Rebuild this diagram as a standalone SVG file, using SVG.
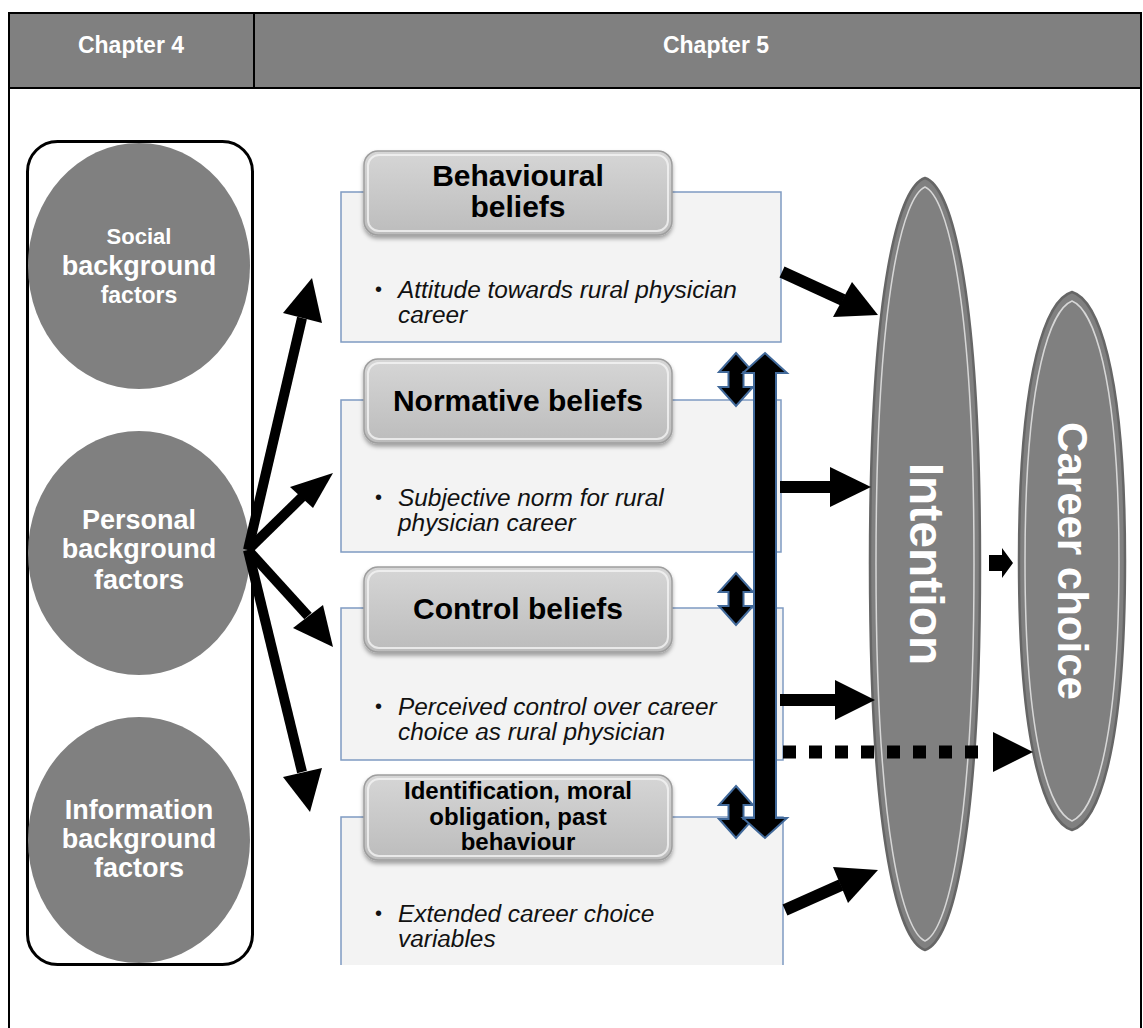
<svg xmlns="http://www.w3.org/2000/svg" width="1143" height="1028" viewBox="0 0 1143 1028">
  <style>
    .hdr { font-family: "Liberation Sans", Arial, sans-serif; font-weight: bold; font-size: 23px; fill: #ffffff; text-anchor: middle; }
    .circ { fill: #808080; }
    .ctext { font-family: "Liberation Sans", Arial, sans-serif; font-weight: bold; fill: #ffffff; text-anchor: middle; }
    .panel { fill: #f3f3f3; stroke: #7f9bc2; stroke-width: 1.5; }
    .tab { fill: url(#tabGrad); stroke: #9e9e9e; stroke-width: 1.5; filter: url(#shadow); }
    .tabHi { fill: none; stroke: #f4f4f4; stroke-width: 2; opacity: 0.8; }
    .ttext { font-family: "Liberation Sans", Arial, sans-serif; font-weight: bold; font-size: 30px; fill: #000000; text-anchor: middle; }
    .ttext2 { font-family: "Liberation Sans", Arial, sans-serif; font-weight: bold; font-size: 24px; fill: #000000; text-anchor: middle; }
    .btext { font-family: "Liberation Sans", Arial, sans-serif; font-style: italic; font-size: 24.4px; fill: #111111; }
    .bullet { font-family: "Liberation Sans", Arial, sans-serif; font-size: 20px; fill: #111111; }
    .lens { fill: #808080; stroke: #666666; stroke-width: 2.5; }
    .lensHi { fill: none; stroke: #e6e6e6; stroke-width: 1.5; opacity: 0.85; }
    .ltext { font-family: "Liberation Sans", Arial, sans-serif; font-weight: bold; fill: #ffffff; text-anchor: middle; }
    .shaft { stroke: #000000; fill: none; }
    .head { fill: #000000; }
    .dbl { fill: #000000; stroke: #41699a; stroke-width: 2; stroke-linejoin: miter; }
  </style>
  <defs>
    <linearGradient id="tabGrad" x1="0" y1="0" x2="0" y2="1">
      <stop offset="0" stop-color="#d6d6d6"/>
      <stop offset="1" stop-color="#bcbcbc"/>
    </linearGradient>
    <filter id="shadow" x="-10%" y="-10%" width="120%" height="130%">
      <feDropShadow dx="0" dy="3" stdDeviation="2" flood-color="#000000" flood-opacity="0.35"/>
    </filter>
  </defs>

  <rect width="1143" height="1028" fill="#ffffff"/>

  <!-- table frame and header row -->
  <g id="table">
    <rect x="9" y="13" width="1132" height="75" fill="#808080"/>
    <path d="M9 12 V1028 M1141 12 V1028 M8 13 H1142 M8 88 H1142 M254 12 V88" stroke="#000000" stroke-width="2" fill="none"/>
    <text class="hdr" x="131" y="53">Chapter 4</text>
    <text class="hdr" x="716" y="53">Chapter 5</text>
  </g>

  <!-- background factors column -->
  <g id="background-frame">
    <rect x="27.5" y="141.5" width="225" height="823" rx="30" fill="none" stroke="#000000" stroke-width="3"/>
  </g>
  <g id="social">
    <ellipse class="circ" cx="139" cy="266" rx="111" ry="123"/>
    <text class="ctext" x="139" y="244" font-size="22">Social</text>
    <text class="ctext" x="139" y="275" font-size="27">background</text>
    <text class="ctext" x="139" y="303" font-size="23">factors</text>
  </g>
  <g id="personal">
    <ellipse class="circ" cx="139" cy="553" rx="111" ry="122"/>
    <text class="ctext" x="139" y="529" font-size="27">Personal</text>
    <text class="ctext" x="139" y="558" font-size="27">background</text>
    <text class="ctext" x="139" y="589" font-size="27">factors</text>
  </g>
  <g id="information">
    <ellipse class="circ" cx="139" cy="840" rx="111" ry="123"/>
    <text class="ctext" x="139" y="819" font-size="27">Information</text>
    <text class="ctext" x="139" y="848" font-size="27">background</text>
    <text class="ctext" x="139" y="877" font-size="27">factors</text>
  </g>

  <!-- belief panels -->
  <g id="behavioural">
    <rect class="panel" x="341" y="192" width="440" height="150"/>
    <rect class="tab" x="364" y="151" width="308" height="84" rx="14"/>
    <rect class="tabHi" x="368" y="155" width="300" height="76" rx="11"/>
    <text class="ttext" x="518" y="186">Behavioural</text>
    <text class="ttext" x="518" y="217">beliefs</text>
    <text class="bullet" x="375" y="296">•</text>
    <text class="btext" x="398" y="298">Attitude towards rural physician</text>
    <text class="btext" x="398" y="323">career</text>
  </g>
  <g id="normative">
    <rect class="panel" x="341" y="400" width="440" height="152"/>
    <rect class="tab" x="364" y="359" width="308" height="84" rx="14"/>
    <rect class="tabHi" x="368" y="363" width="300" height="76" rx="11"/>
    <text class="ttext" x="518" y="411">Normative beliefs</text>
    <text class="bullet" x="375" y="504">•</text>
    <text class="btext" x="398" y="506">Subjective norm for rural</text>
    <text class="btext" x="398" y="531">physician career</text>
  </g>
  <g id="control">
    <rect class="panel" x="341" y="608" width="442" height="152"/>
    <rect class="tab" x="364" y="567" width="308" height="85" rx="14"/>
    <rect class="tabHi" x="368" y="571" width="300" height="77" rx="11"/>
    <text class="ttext" x="518" y="619">Control beliefs</text>
    <text class="bullet" x="375" y="713">•</text>
    <text class="btext" x="398" y="715">Perceived control over career</text>
    <text class="btext" x="398" y="740">choice as rural physician</text>
  </g>
  <g id="extended">
    <rect x="341" y="817" width="442" height="148" fill="#f3f3f3"/>
    <path d="M341 965 V817 H783 V965" fill="none" stroke="#7f9bc2" stroke-width="1.5"/>
    <rect class="tab" x="364" y="775" width="308" height="85" rx="14"/>
    <rect class="tabHi" x="368" y="779" width="300" height="77" rx="11"/>
    <text class="ttext2" x="518" y="799">Identification, moral</text>
    <text class="ttext2" x="518" y="825">obligation, past</text>
    <text class="ttext2" x="518" y="850">behaviour</text>
    <text class="bullet" x="375" y="920">•</text>
    <text class="btext" x="398" y="922">Extended career choice</text>
    <text class="btext" x="398" y="947">variables</text>
  </g>

  <!-- outcome lenses (tall pointed ovals) -->
  <g id="intention">
    <path class="lens" d="M925 178 C950 186 980 280 980 564 C980 848 950 942 925 950 C900 942 870 848 870 564 C870 280 900 186 925 178 Z"/>
    <path class="lensHi" d="M925 187 C946 196 974 290 974 564 C974 838 946 932 925 941 C904 932 876 838 876 564 C876 290 904 196 925 187 Z"/>
    <text class="ltext" font-size="48" transform="translate(910,564) rotate(90)">Intention</text>
  </g>
  <g id="career-choice">
    <path class="lens" d="M1072 292 C1096 299 1125 363 1125 561 C1125 759 1096 823 1072 830 C1048 823 1019 759 1019 561 C1019 363 1048 299 1072 292 Z"/>
    <path class="lensHi" d="M1072 301 C1092 309 1119 371 1119 561 C1119 751 1092 813 1072 821 C1052 813 1025 751 1025 561 C1025 371 1052 309 1072 301 Z"/>
    <text class="ltext" font-size="42" transform="translate(1058,561) rotate(90)">Career choice</text>
  </g>

  <!-- connectors -->
  <g id="connectors">
    <!-- fan from personal background factors -->
    <line class="shaft" x1="248" y1="550" x2="302" y2="318" stroke-width="10"/>
    <polygon class="head" points="312,278 283,313 322,323"/>
    <line class="shaft" x1="248" y1="550" x2="302" y2="497" stroke-width="10"/>
    <polygon class="head" points="333,473 290,487 313,508"/>
    <line class="shaft" x1="248" y1="550" x2="308" y2="616" stroke-width="10"/>
    <polygon class="head" points="333,647 293,628 323,605"/>
    <line class="shaft" x1="248" y1="550" x2="302" y2="772" stroke-width="10"/>
    <polygon class="head" points="310,812 283,777 322,768"/>

    <!-- links between belief panels -->
    <polygon class="dbl" points="736,353 753,372 743.5,372 743.5,387 753,387 736,406 719,387 728.5,387 728.5,372 719,372"/>
    <polygon class="dbl" points="736,573 753,592 743.5,592 743.5,606 753,606 736,625 719,606 728.5,606 728.5,592 719,592"/>
    <polygon class="dbl" points="736,786 753,805 743.5,805 743.5,819 753,819 736,838 719,819 728.5,819 728.5,805 719,805"/>
    <polygon class="dbl" points="765,353 787,373 776,373 776,818 787,818 765,838 743,818 754,818 754,373 743,373"/>

    <!-- panels to intention -->
    <line class="shaft" x1="782" y1="272" x2="843" y2="300" stroke-width="12"/>
    <polygon class="head" points="878,315 833,317 852,282"/>
    <line class="shaft" x1="780" y1="487" x2="832" y2="487" stroke-width="12"/>
    <polygon class="head" points="871,487 830,467 830,507"/>
    <line class="shaft" x1="780" y1="700" x2="836" y2="700" stroke-width="12"/>
    <polygon class="head" points="875,700 835,680 835,720"/>
    <line class="shaft" x1="785" y1="910" x2="841" y2="885" stroke-width="12"/>
    <polygon class="head" points="878,870 833,867 848,903"/>

    <!-- direct path to career choice -->
    <line class="shaft" x1="783" y1="752" x2="990" y2="752" stroke-width="13" stroke-dasharray="13 13"/>
    <polygon class="head" points="1033,752 993,732 993,772"/>

    <!-- intention to career choice -->
    <polygon class="head" points="989,555 1002,555 1002,548 1013,563 1002,578 1002,571 989,571"/>
  </g>
</svg>
